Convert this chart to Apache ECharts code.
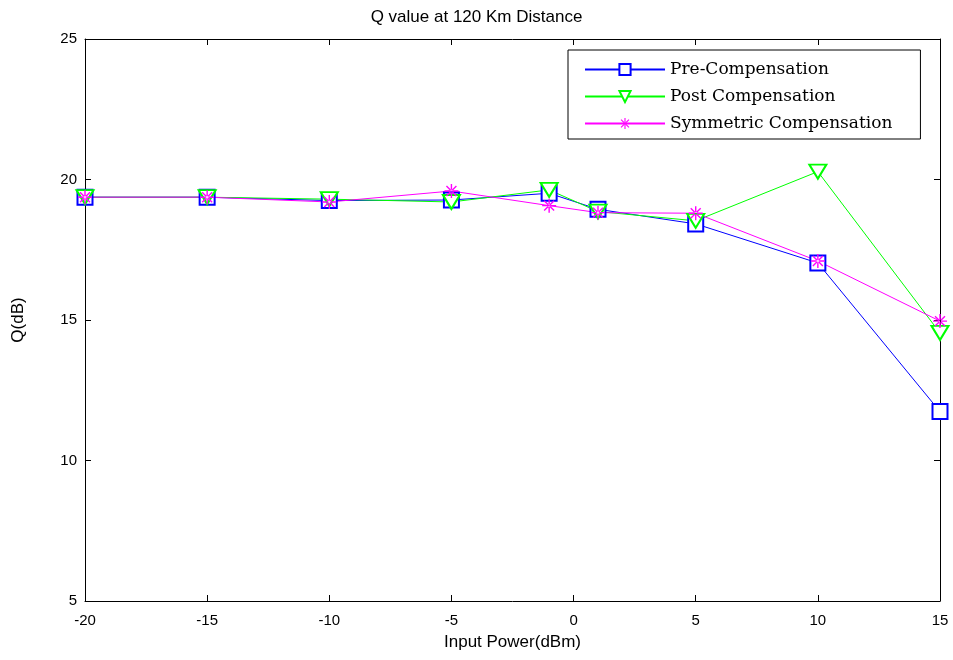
<!DOCTYPE html>
<html>
<head>
<meta charset="utf-8">
<script src="https://cdn.jsdelivr.net/npm/echarts@6/dist/echarts.min.js"></script>
<style>html,body{margin:0;padding:0;background:#fff;}#c{width:953px;height:660px;}</style>
</head>
<body>
<div id="c"></div>
<script>
var xValues = [-20, -15, -10, -5, -1, 1, 5, 10, 15];
var preComp = [19.37, 19.37, 19.25, 19.27, 19.51, 18.94, 18.42, 17.03, 11.74];
var postComp = [19.37, 19.37, 19.3, 19.2, 19.63, 18.86, 18.53, 20.28, 14.54];
var symComp = [19.37, 19.37, 19.2, 19.59, 19.07, 18.82, 18.8, 17.1, 14.96];
var seriesNames = ['Pre-Compensation', 'Post Compensation', 'Symmetric Compensation'];

function pairs(vals) { return xValues.map(function (x, i) { return [x, vals[i]]; }); }

var star = 'path://M-0.5,-5 L0.5,-5 L0.5,5 L-0.5,5 Z M-5,-0.5 L5,-0.5 L5,0.5 L-5,0.5 Z M-3.9,-3.2 L3.2,3.9 L3.9,3.2 L-3.2,-3.9 Z M3.2,-3.9 L-3.9,3.2 L-3.2,3.9 L3.9,-3.2 Z';

var chart = echarts.init(document.getElementById('c'), null, {renderer: 'canvas'});
var axisFont = {fontFamily: 'Liberation Sans, Arial, sans-serif', fontSize: 15, color: '#000'};
chart.setOption({
  animation: false,
  backgroundColor: '#fff',
  title: {
    text: 'Q value at 120 Km Distance', left: 'center', top: 4,
    textStyle: {fontFamily: 'Liberation Sans, Arial, sans-serif', fontSize: 17, fontWeight: 'normal', color: '#000'}
  },
  legend: {
    orient: 'vertical', left: 568, top: 50,
    padding: [11, 28, 7, 16], itemGap: 10, itemWidth: 80, itemHeight: 14,
    borderColor: '#000', borderWidth: 1, backgroundColor: '#fff',
    textStyle: {fontFamily: 'DejaVu Serif, Liberation Serif, serif', fontSize: 17, color: '#000'},
    data: seriesNames
  },
  grid: {left: 85, right: 13, top: 39, bottom: 59, containLabel: false},
  xAxis: [{
    type: 'value', min: -20, max: 15, interval: 5,
    name: 'Input Power(dBm)', nameLocation: 'middle', nameGap: 33,
    nameTextStyle: {fontFamily: 'Liberation Sans, Arial, sans-serif', fontSize: 17, color: '#000'},
    axisLine: {onZero: false, lineStyle: {color: '#000', width: 1}},
    axisTick: {inside: true, length: 6, lineStyle: {color: '#000'}},
    axisLabel: Object.assign({margin: 12}, axisFont),
    splitLine: {show: false}
  }, {
    type: 'value', min: -20, max: 15, interval: 5, position: 'top',
    axisLine: {onZero: false, lineStyle: {color: '#000', width: 1}},
    axisTick: {inside: true, length: 6, lineStyle: {color: '#000'}},
    axisLabel: {show: false}, splitLine: {show: false}
  }],
  yAxis: [{
    type: 'value', min: 5, max: 25, interval: 5,
    name: 'Q(dB)', nameLocation: 'middle', nameGap: 58,
    nameTextStyle: {fontFamily: 'Liberation Sans, Arial, sans-serif', fontSize: 17, color: '#000'},
    axisLine: {onZero: false, lineStyle: {color: '#000', width: 1}},
    axisTick: {inside: true, length: 6, lineStyle: {color: '#000'}},
    axisLabel: Object.assign({margin: 8}, axisFont),
    splitLine: {show: false}
  }, {
    type: 'value', min: 5, max: 25, interval: 5, position: 'right',
    axisLine: {onZero: false, lineStyle: {color: '#000', width: 1}},
    axisTick: {inside: true, length: 6, lineStyle: {color: '#000'}},
    axisLabel: {show: false}, splitLine: {show: false}
  }],
  series: [{
    name: seriesNames[0], type: 'line', data: pairs(preComp),
    symbol: 'emptyRect', symbolSize: 15,
    lineStyle: {color: '#0000ff', width: 1}, itemStyle: {color: '#0000ff', borderColor: '#0000ff', borderWidth: 1.2}
  }, {
    name: seriesNames[1], type: 'line', data: pairs(postComp),
    symbol: 'emptyTriangle', symbolRotate: 180, symbolSize: [17, 14],
    lineStyle: {color: '#00ff00', width: 1}, itemStyle: {color: '#00ff00', borderColor: '#00ff00', borderWidth: 1.2}
  }, {
    name: seriesNames[2], type: 'line', data: pairs(symComp),
    symbol: star, symbolSize: 14,
    lineStyle: {color: '#ff00ff', width: 1}, itemStyle: {color: '#ff00ff', borderColor: '#ff00ff', borderWidth: 0}
  }]
});
</script>
</body>
</html>
